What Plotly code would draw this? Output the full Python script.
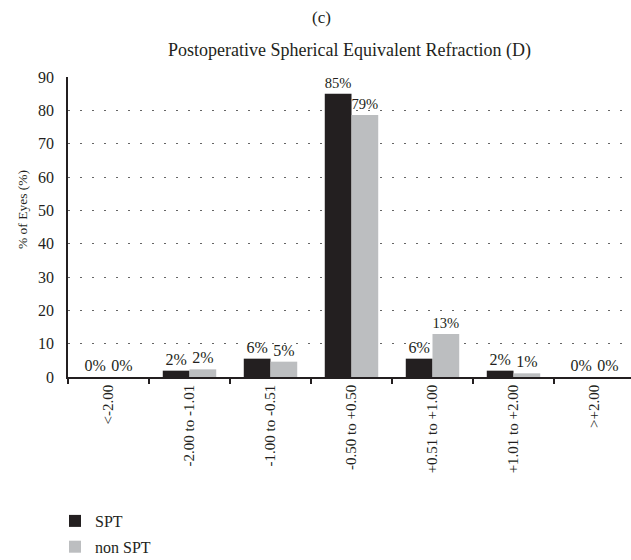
import plotly.graph_objects as go

SERIF = "Liberation Serif, Times New Roman, serif"
INK = "#231f20"
SPT_COLOR = "#231f20"
NON_SPT_COLOR = "#bcbec0"

categories = [
    "<-2.00",
    "-2.00 to -1.01",
    "-1.00 to -0.51",
    "-0.50 to +0.50",
    "+0.51 to +1.00",
    "+1.01 to +2.00",
    ">+2.00",
]
spt_values = [0, 1.9, 5.5, 85, 5.5, 1.9, 0]
spt_labels = ["0%", "2%", "6%", "85%", "6%", "2%", "0%"]
non_spt_values = [0, 2.3, 4.6, 78.6, 12.9, 1.1, 0]
non_spt_labels = ["0%", "2%", "5%", "79%", "13%", "1%", "0%"]
y_ticks = [0, 10, 20, 30, 40, 50, 60, 70, 80, 90]

# plot area in pixels (reference)
PLOT_L, PLOT_R, PLOT_T, PLOT_B = 68, 631, 77, 377


def px_to_paper(x, y):
    return (x - PLOT_L) / (PLOT_R - PLOT_L), (PLOT_B - y) / (PLOT_B - PLOT_T)


fig = go.Figure()

for name, vals, labels, color in [
    ("SPT", spt_values, spt_labels, SPT_COLOR),
    ("non SPT", non_spt_values, non_spt_labels, NON_SPT_COLOR),
]:
    fig.add_trace(
        go.Bar(
            x=categories,
            y=vals,
            name=name,
            text=labels,
            textposition="outside",
            textfont=dict(family=SERIF, size=16, color=INK),
            marker=dict(color=color, line_width=0),
            cliponaxis=False,
            legendgroup=name,
        )
    )

# panel letter and y title
cx, cy = px_to_paper(321, 18)
fig.add_annotation(
    text="(c)", x=cx, y=cy, xref="paper", yref="paper", xanchor="center", yanchor="middle",
    showarrow=False, font=dict(family=SERIF, size=17, color=INK),
)
tx, ty = px_to_paper(22, 210)
fig.add_annotation(
    text="% of Eyes (%)", x=tx, y=ty, xref="paper", yref="paper", xanchor="center", yanchor="middle",
    textangle=-90, showarrow=False, font=dict(family=SERIF, size=13.5, color=INK),
)

fig.update_layout(
    width=631,
    height=560,
    paper_bgcolor="white",
    plot_bgcolor="white",
    margin=dict(l=PLOT_L, r=631 - PLOT_R, t=PLOT_T, b=560 - PLOT_B, autoexpand=False),
    barmode="group",
    bargap=0.34,
    bargroupgap=0,
    title=dict(
        text="Postoperative Spherical Equivalent Refraction (D)",
        x=0.5, xref="paper", y=1 - 50 / 560, yref="container", yanchor="middle",
        font=dict(family=SERIF, size=18, color=INK),
    ),
    legend=dict(
        x=55 / 631, xref="container", xanchor="left",
        y=1 - 504 / 560, yref="container", yanchor="top",
        font=dict(family=SERIF, size=16, color=INK),
        tracegroupgap=2,
        bgcolor="rgba(0,0,0,0)",
    ),
    showlegend=True,
)

fig.update_xaxes(
    type="category",
    range=[-0.5, -0.5 + (PLOT_R - PLOT_L) / 81],
    showline=True, linecolor=INK, linewidth=1.5,
    ticks="outside", tickson="boundaries", ticklen=5, tickcolor=INK, tickwidth=1.5,
    tickangle=-90,
    tickfont=dict(family=SERIF, size=15, color=INK),
    showgrid=False,
    fixedrange=True,
)
fig.update_yaxes(
    range=[0, 90],
    tickvals=y_ticks,
    showline=True, linecolor=INK, linewidth=1.5,
    ticks="", ticklabelstandoff=9,
    tickfont=dict(family=SERIF, size=16, color=INK),
    showgrid=True, gridcolor="#666666", gridwidth=1, griddash="1.5px,10.5px",
    zeroline=False,
    fixedrange=True,
)

fig.write_html(
    "out.html",
    config={"displayModeBar": False},
    post_script="document.body.style.margin='0';document.body.style.overflow='hidden';",
)
